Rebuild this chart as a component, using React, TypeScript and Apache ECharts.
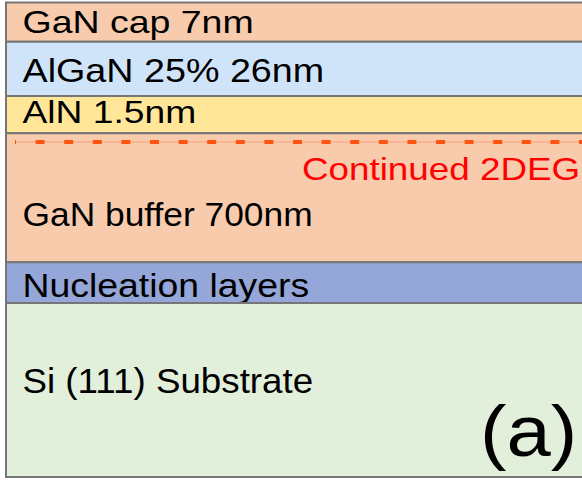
import React, { useEffect, useRef } from "react";
import * as echarts from "echarts";

// Layer stack, top to bottom (drawn heights, not to scale)
const layerNames = [
  "GaN cap 7nm",
  "AlGaN 25% 26nm",
  "AlN 1.5nm",
  "GaN buffer 700nm",
  "Nucleation layers",
  "Si (111) Substrate",
];
const layerHeights = [39.2, 54.3, 37.3, 129, 40.7, 174];
const layerColors = ["#F8CBAD", "#D0E4F9", "#FFE699", "#F8CBAD", "#95A6D8", "#E2EFDA"];
// label centre depth (same units as heights)
const labelDepths = [19.2, 67.5, 110, 211.5, 282.5, 378.3];
const labelSizes = [31.5, 32.5, 30.5, 34, 32.5, 35];
const labelStretch = [1.19, 1.16, 1.22, 1.04, 1.15, 1.05];

const twoDegDepth = 139.5;
const twoDegLabel = "Continued 2DEG";
const twoDegLabelDepth = 166.5;
const panelLabel = "(a)";
const panelLabelDepth = 428.5;

const FONT = "'Liberation Sans', Arial, sans-serif";

export default function App() {
  const ref = useRef<HTMLDivElement>(null);
  useEffect(() => {
    if (!ref.current) return;
    const chart = echarts.init(ref.current, undefined, { renderer: "svg" });
    const total = layerHeights.reduce((a, b) => a + b, 0);
    const starts: number[] = [];
    let acc = 0;
    layerHeights.forEach((h) => {
      starts.push(acc);
      acc += h;
    });
    const layerData = layerNames.map((n, i) => [i, starts[i], starts[i] + layerHeights[i]]);

    chart.setOption({
      animation: false,
      backgroundColor: "#ffffff",
      grid: { left: 6, right: 0, top: 2.5, bottom: 6 },
      xAxis: { type: "value", min: 0, max: 1, show: false },
      yAxis: { type: "value", min: 0, max: total, inverse: true, show: false },
      series: [
        {
          type: "custom",
          clip: false,
          data: layerData,
          renderItem: (params: any, api: any) => {
            const i = params.dataIndex;
            const cs = params.coordSys;
            const y0 = api.coord([0, api.value(1)])[1];
            const y1 = api.coord([0, api.value(2)])[1];
            const ly = api.coord([0, labelDepths[i]])[1];
            return {
              type: "group",
              children: [
                {
                  type: "rect",
                  shape: { x: cs.x, y: y0, width: cs.width + 20, height: y1 - y0 },
                  style: { fill: layerColors[i], stroke: "#767676", lineWidth: 2 },
                },
                {
                  type: "text",
                  x: 22.5,
                  y: ly,
                  scaleX: labelStretch[i],
                  style: {
                    text: layerNames[i],
                    fill: "#000000",
                    fontSize: labelSizes[i],
                    fontFamily: FONT,
                    align: "left",
                    verticalAlign: "middle",
                  },
                },
              ],
            };
          },
        },
        {
          type: "custom",
          clip: false,
          data: [[twoDegDepth]],
          renderItem: (params: any, api: any) => {
            const cs = params.coordSys;
            const y = api.coord([0, api.value(0)])[1];
            const ty = api.coord([0, twoDegLabelDepth])[1];
            const py = api.coord([0, panelLabelDepth])[1];
            return {
              type: "group",
              children: [
                {
                  type: "line",
                  shape: { x1: 15, y1: y, x2: cs.x + cs.width + 10, y2: y },
                  style: { stroke: "#F9A07C", lineWidth: 1 },
                },
                {
                  type: "line",
                  shape: { x1: 15, y1: y, x2: cs.x + cs.width + 10, y2: y },
                  style: { stroke: "#FF5410", lineWidth: 4, lineDash: [9, 19.6], lineDashOffset: 7.6 },
                },
                {
                  type: "text",
                  x: 302,
                  y: ty,
                  scaleX: 1.15,
                  style: {
                    text: twoDegLabel,
                    fill: "#FF0000",
                    fontSize: 32,
                    fontFamily: FONT,
                    align: "left",
                    verticalAlign: "middle",
                  },
                },
                {
                  type: "text",
                  x: 480,
                  y: py,
                  scaleX: 1.09,
                  style: {
                    text: panelLabel,
                    fill: "#000000",
                    fontSize: 73,
                    fontFamily: FONT,
                    align: "left",
                    verticalAlign: "middle",
                  },
                },
              ],
            };
          },
        },
      ],
    });
    return () => chart.dispose();
  }, []);
  return (
    <div
      ref={ref}
      style={{ position: "fixed", left: 0, top: 0, width: 582, height: 483 }}
    />
  );
}
